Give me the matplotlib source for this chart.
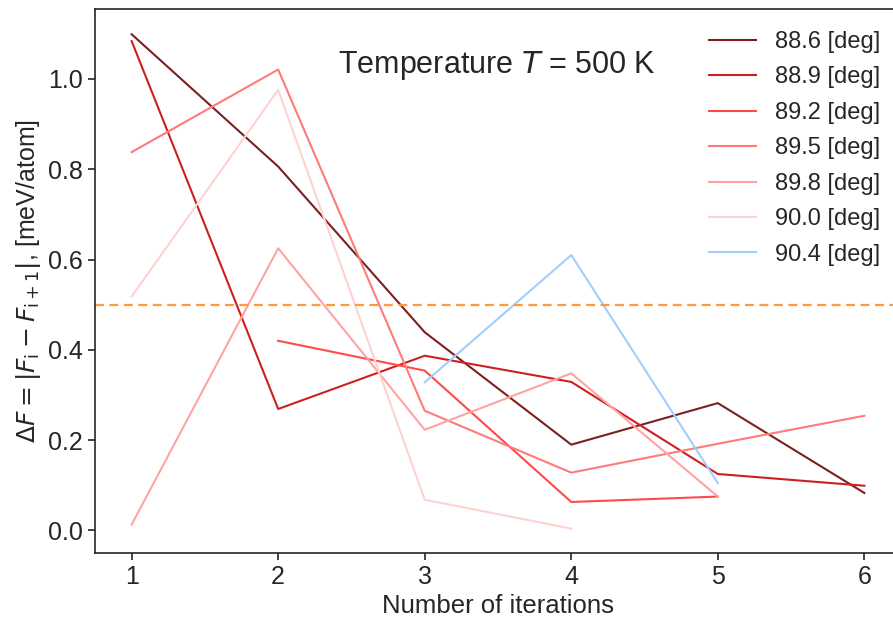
import matplotlib
matplotlib.use("Agg")
import matplotlib.pyplot as plt
import numpy as np

# convergence of free energy per iteration, one series per angle
angles = ["88.6", "88.9", "89.2", "89.5", "89.8", "90.0", "90.4"]
iters = {
    "88.6": [1, 2, 3, 4, 5, 6],
    "88.9": [1, 2, 3, 4, 5, 6],
    "89.2": [2, 3, 4, 5],
    "89.5": [1, 2, 3, 4, 5, 6],
    "89.8": [1, 2, 3, 4, 5],
    "90.0": [1, 2, 3, 4],
    "90.4": [3, 4, 5],
}
delta_f = {
    "88.6": [1.099, 0.806, 0.439, 0.190, 0.282, 0.083],
    "88.9": [1.084, 0.269, 0.387, 0.329, 0.125, 0.099],
    "89.2": [0.420, 0.354, 0.063, 0.075],
    "89.5": [0.838, 1.021, 0.265, 0.128, 0.192, 0.254],
    "89.8": [0.013, 0.625, 0.223, 0.348, 0.075],
    "90.0": [0.518, 0.976, 0.068, 0.004],
    "90.4": [0.328, 0.610, 0.105],
}
colors = ["#7d1f1f", "#cc2020", "#ff4a4a", "#ff7a7a", "#ffa3a3", "#ffd2d2", "#a3ccff"]
threshold = 0.5

plt.rcParams["font.family"] = ["Liberation Sans", "DejaVu Sans"]
plt.rcParams["text.color"] = "#262626"
plt.rcParams["axes.labelcolor"] = "#262626"
plt.rcParams["xtick.color"] = "#262626"
plt.rcParams["ytick.color"] = "#262626"

fig = plt.figure(figsize=(8.93, 6.21), dpi=100)
ax = fig.add_axes([95 / 893, 68 / 621, 806 / 893, 544 / 621])

for name, c in zip(angles, colors):
    ax.plot(iters[name], delta_f[name], color=c, lw=1.5, label=f"{name} [deg]")

ax.axhline(threshold, color="#ff9a3c", ls="--", lw=1.6, dashes=(4, 2.5))

ax.set_xlim(0.75, 6.25)
ax.set_ylim(-0.05, 1.155)
ax.set_xticks(np.arange(1, 7))
ax.set_yticks([0.0, 0.2, 0.4, 0.6, 0.8, 1.0])
ax.set_yticklabels(["0.0", "0.2", "0.4", "0.6", "0.8", "1.0"])
ax.tick_params(labelsize=18, length=5, width=1.2, direction="out")
for s in ax.spines.values():
    s.set_color("#262626")
    s.set_linewidth(1.2)

ax.set_xlabel("Number of iterations", fontsize=18.5, labelpad=4)
ax.set_ylabel(r"$\Delta F = |F_\mathrm{i} - F_\mathrm{i+1}|$, [meV/atom]", fontsize=18)

ax.text(0.499, 0.897, r"Temperature $T$ = 500 K", transform=ax.transAxes,
        fontsize=22, ha="center", va="center")

ax.legend(loc="upper right", bbox_to_anchor=(0.995, 0.99), frameon=False,
          fontsize=17, handlelength=2.0, labelspacing=0.57, borderaxespad=0.3)

fig.savefig("out.png", dpi=100)
